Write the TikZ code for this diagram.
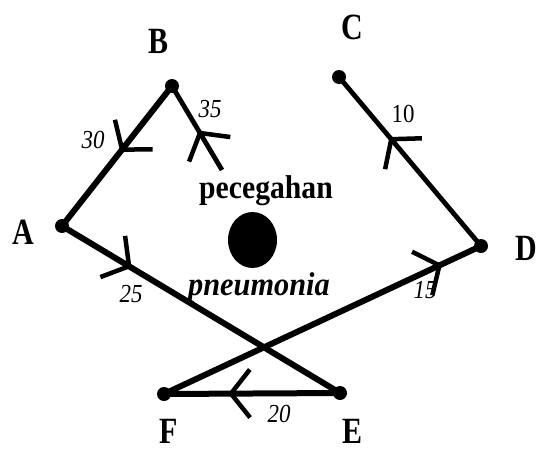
\documentclass[tikz,border=0pt]{standalone}
\usepackage{fontspec}
\setmainfont{Liberation Serif}
\usetikzlibrary{arrows.meta,decorations.markings,shapes.geometric}
\tikzset{
  dot/.style={circle,fill,inner sep=0pt,minimum size=14pt},
  edge/.style={line width=6pt},
  thinedge/.style={line width=4.8pt},
  letter/.style={font=\fontsize{37}{37}\selectfont\bfseries, inner sep=0pt},
  weight/.style={font=\fontsize{26}{26}\selectfont\itshape, inner sep=0pt},
  caption/.style={font=\fontsize{33}{33}\selectfont\bfseries, inner sep=0pt, anchor=base},
  midarrow/.style={postaction={decorate},
    decoration={markings,mark=at position #1 with
      {\arrow{Straight Barb[length=19pt,width=48pt,line width=4.5pt]}}}}
}
\begin{document}
\begin{tikzpicture}[x=1pt,y=-1pt]
  \useasboundingbox (0,0) rectangle (541,450);
  % vertices
  \node[dot] (A) at (62,226) {};
  \node[dot] (B) at (172,86) {};
  \node[dot] (C) at (339,77) {};
  \node[dot] (D) at (481,246) {};
  \node[dot] (E) at (340,393) {};
  \node[dot] (F) at (164,394) {};
  \coordinate (p35) at (222,170);
  % centre blob
  \node[ellipse,fill,inner sep=0pt,minimum width=49pt,minimum height=56pt] (blob) at (252.5,240) {};
  % edges
  \draw[edge, midarrow=0.47] (B.center) -- (A.center);
  \draw[thinedge, midarrow=0.47] (p35) -- (B.center);
  \draw[thinedge, midarrow=0.645] (D.center) -- (C.center);
  \draw[edge, midarrow=0.25] (A.center) -- (E.center);
  \draw[edge, midarrow=0.877] (F.center) -- (D.center);
  \draw[edge, midarrow=0.636] (E.center) -- (F.center);
  % vertex labels
  \node[letter] (lB) at (158,41) {\scalebox{0.81}[1]{B}};
  \node[letter] (lC) at (352,27) {\scalebox{0.81}[1]{C}};
  \node[letter] (lA) at (23,232) {\scalebox{0.81}[1]{A}};
  \node[letter] (lD) at (526,248) {\scalebox{0.81}[1]{D}};
  \node[letter] (lF) at (169,431) {\scalebox{0.81}[1]{F}};
  \node[letter] (lE) at (352,431) {\scalebox{0.81}[1]{E}};
  % weights
  \node[weight] (w30) at (93,140) {\scalebox{0.88}[1]{30}};
  \node[weight] (w35) at (210,109) {\scalebox{0.88}[1]{35}};
  \node[weight] (w10) at (403,114) {\scalebox{0.88}[1]{\upshape 10}};
  \node[weight] (w25) at (131,294) {\scalebox{0.88}[1]{25}};
  \node[weight] (w15) at (425,290) {\scalebox{0.88}[1]{15}};
  \node[weight] (w20) at (279,414) {\scalebox{0.88}[1]{20}};
  % captions
  \node[caption] (t1) at (266,198) {\scalebox{0.9}[1]{pecegahan}};
  \node[caption] (t2) at (259,295) {\scalebox{0.92}[1]{\itshape pneumonia}};
\end{tikzpicture}
\end{document}
